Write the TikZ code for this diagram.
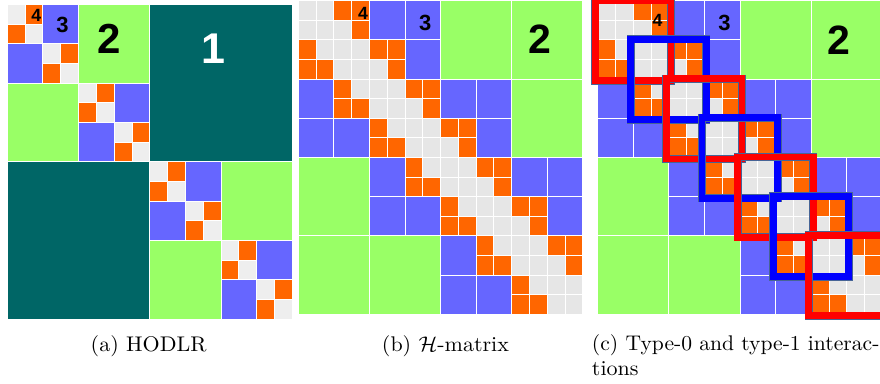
\documentclass[tikz,border=0pt]{standalone}
\usepackage{fontspec}
\newfontfamily\numfont{Liberation Sans}
\usetikzlibrary{calc}
\definecolor{tealc}{HTML}{006666}
\definecolor{greenc}{HTML}{99FF66}
\definecolor{bluec}{HTML}{6666FF}
\definecolor{orangec}{HTML}{FF6600}
\definecolor{graya}{HTML}{EEEEEE}
\definecolor{grayb}{HTML}{E6E6E6}
\definecolor{redf}{HTML}{FF0000}
\definecolor{bluef}{HTML}{0000FF}
\definecolor{edgec}{RGB}{70,100,150}
\tikzset{
  cellbox/.style={draw=white, line width=0.9pt},
  numlab/.style={inner sep=0pt, font=\numfont\bfseries\fontsize{#1}{#1}\selectfont},
  captext/.style={inner sep=0pt, anchor=base west, font=\fontsize{10}{12}\selectfont, xscale=2.2, yscale=2.12},
  framebox/.style={line width=0.6pt, draw=edgec, double distance=6.8pt},
}
\newcommand\drawHmat{%
 \foreach \I in {0,...,3}{\foreach \J in {0,...,3}{%
   \pgfmathtruncatemacro\dA{abs(\I-\J)}%
   \ifnum\dA>1
     \filldraw[cellbox,fill=greenc] (4*\J,4*\I) rectangle (4*\J+4,4*\I+4);
   \else
     \foreach \pa in {0,1}{\foreach \pb in {0,1}{%
       \pgfmathtruncatemacro\rowB{2*\I+\pa}\pgfmathtruncatemacro\colB{2*\J+\pb}%
       \pgfmathtruncatemacro\dB{abs(\rowB-\colB)}%
       \ifnum\dB>1
         \filldraw[cellbox,fill=bluec] (2*\colB,2*\rowB) rectangle (2*\colB+2,2*\rowB+2);
       \else
         \foreach \pc in {0,1}{\foreach \pd in {0,1}{%
           \pgfmathtruncatemacro\rowC{2*\rowB+\pc}\pgfmathtruncatemacro\colC{2*\colB+\pd}%
           \pgfmathtruncatemacro\dC{abs(\rowC-\colC)}%
           \ifnum\dC>1 \def\cellcol{orangec}\else\def\cellcol{grayb}\fi
           \filldraw[cellbox,fill=\cellcol] (\colC,\rowC) rectangle (\colC+1,\rowC+1);
         }}%
       \fi
     }}%
   \fi
 }}%
}
\begin{document}
\begin{tikzpicture}[x=1pt,y=-1pt]
\useasboundingbox (0,0) rectangle (880,383);
\fill[white] (0,0) rectangle (880,383);

% (a) HODLR
\begin{scope}[xshift=7.3pt, yshift=-4.3pt, x=17.81pt, y=-19.67pt]
  \filldraw[cellbox, fill=tealc] (8,0) rectangle (16,8);
  \filldraw[cellbox, fill=tealc] (0,8) rectangle (8,16);
  \foreach \k in {0,8}{
    \filldraw[cellbox, fill=greenc] (\k+4,\k) rectangle (\k+8,\k+4);
    \filldraw[cellbox, fill=greenc] (\k,\k+4) rectangle (\k+4,\k+8);
  }
  \foreach \k in {0,4,8,12}{
    \filldraw[cellbox, fill=bluec] (\k+2,\k) rectangle (\k+4,\k+2);
    \filldraw[cellbox, fill=bluec] (\k,\k+2) rectangle (\k+2,\k+4);
  }
  \foreach \k in {0,2,...,14}{
    \filldraw[cellbox, fill=graya] (\k,\k) rectangle (\k+1,\k+1);
    \filldraw[cellbox, fill=graya] (\k+1,\k+1) rectangle (\k+2,\k+2);
    \filldraw[cellbox, fill=orangec] (\k+1,\k) rectangle (\k+2,\k+1);
    \filldraw[cellbox, fill=orangec] (\k,\k+1) rectangle (\k+1,\k+2);
  }
\end{scope}

% (b) H-matrix
\begin{scope}[xshift=298.3pt, yshift=-0.7pt, x=17.78pt, y=-19.6pt]
  \drawHmat
\end{scope}

% (c) type-0 / type-1 interactions
\begin{scope}[xshift=597.8pt, yshift=-0.7pt, x=17.78pt, y=-19.6pt]
  \drawHmat
  \foreach \k in {0,...,3}{
    \draw[framebox, double=redf] ($(4*\k,4*\k)+(-2.5pt,0.5pt)$) rectangle ($(4*\k+4,4*\k+4)+(2pt,-1.5pt)$);
    \ifnum\k<3
      \draw[framebox, double=bluef] ($(4*\k+2,4*\k+2)+(-2.5pt,0.5pt)$) rectangle ($(4*\k+6,4*\k+6)+(2pt,-1.5pt)$);
    \fi
  }
\end{scope}

% labels
\node[numlab=43, text=white] (a1) at (213,48.7) {1};
\node[numlab=42] (a2) at (109.5,38.7) {2};
\node[numlab=22] (a3) at (62.5,24.7) {3};
\node[numlab=17.7] (a4) at (36.2,15.7) {4};
\node[numlab=41] (b2) at (539.5,39.5) {2};
\node[numlab=22] (b3) at (425.2,22.8) {3};
\node[numlab=17.7] (b4) at (363,13) {4};
\node[numlab=41] (c2) at (838.7,40) {2};
\node[numlab=22] (c3) at (724.5,23.2) {3};
\node[numlab=17.7] (c4) at (657.5,20) {4};

% captions
\node[captext] (capa) at (90.3,351) {(a) HODLR};
\node[captext] (capb) at (381.5,351) {(b) $\mathcal{H}$-matrix};
\node[captext, xscale=0.982] (capc1) at (591.5,350.5) {(c) Type-0 and type-1 interac-};
\node[captext] (capc2) at (591.5,375) {tions};
\end{tikzpicture}
\end{document}
